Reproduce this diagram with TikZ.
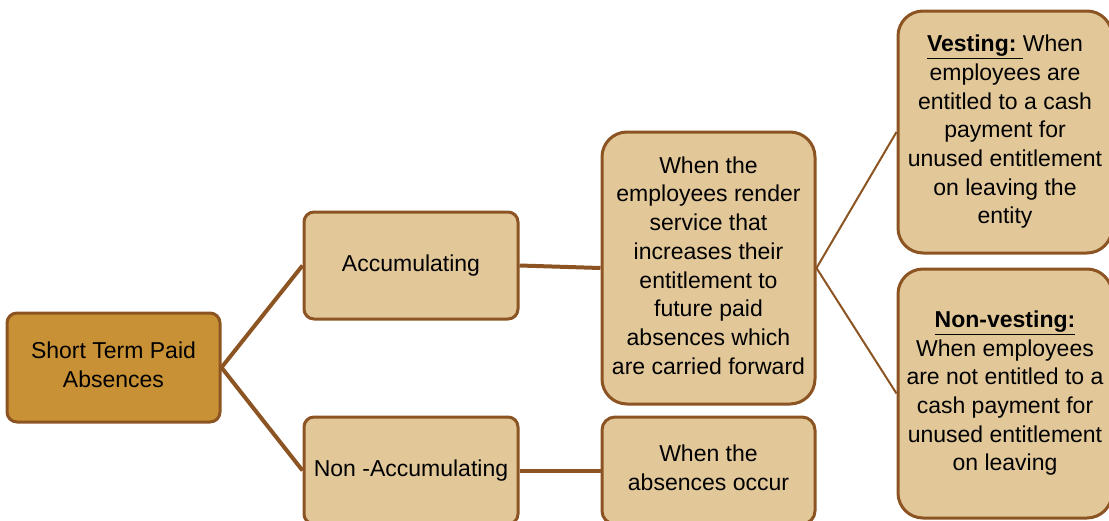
\documentclass[tikz,border=0pt]{standalone}
\usepackage{fontspec}
\setmainfont{Liberation Sans}
\usepackage{xcolor}
\usetikzlibrary{shapes.geometric, arrows, shapes}
\definecolor{boxline}{RGB}{140,84,34}
\definecolor{boxfill}{RGB}{226,200,153}
\definecolor{rootfill}{RGB}{200,145,54}
\tikzstyle{catbox} = [rectangle, rounded corners=10pt, minimum width=214pt, minimum height=107pt, text centered, draw=boxline, line width=3pt, fill=boxfill, inner sep=0pt]
\tikzstyle{rootbox} = [catbox, fill=rootfill, minimum width=213pt, minimum height=109pt]
\tikzstyle{tallbox} = [catbox, rounded corners=25pt]
\tikzstyle{link} = [draw=boxline, line width=4pt]
\tikzstyle{thinlink} = [draw=boxline, line width=2pt]

\begin{document}
\begin{tikzpicture}[x=1pt, y=1pt, yscale=-1, font=\fontsize{23}{28.7}\selectfont]

\clip (0,0) rectangle (1109,520);

\node at (113.5, 367.5) (absences) [rootbox] {\begin{tabular}{c} Short Term Paid \\ Absences \end{tabular}};
\node at (411, 265.5) (accum) [catbox] {Accumulating};
\node at (411, 470.5) (nonaccum) [catbox] {Non -Accumulating};
\node at (708.5, 268) (carried) [tallbox, minimum height=272pt, minimum width=213pt] {\begin{tabular}{c} When the \\ employees render \\ service that \\ increases their \\ entitlement to \\ future paid \\ absences which \\ are carried forward \end{tabular}};
\node at (708.5, 470.5) (occur) [catbox, minimum width=213pt, rounded corners=13pt] {\begin{tabular}{c} When the \\ absences occur \end{tabular}};
\node at (1005, 132) (vesting) [tallbox, minimum height=242pt] {\begin{tabular}{c} \underline{\textbf{Vesting:}\ }When \\ employees are \\ entitled to a cash \\ payment for \\ unused entitlement \\ on leaving the \\ entity \end{tabular}};
\node at (1005, 393.5) (nonvesting) [tallbox, minimum height=249pt] {\begin{tabular}{c} \underline{\textbf{Non-vesting:}} \\ When employees \\ are not entitled to a \\ cash payment for \\ unused entitlement \\ on leaving \end{tabular}};

\draw[link] (absences.east) -- (accum.west);
\draw[link] (absences.east) -- (nonaccum.west);
\draw[link] (accum.east) -- (carried.west);
\draw[link] (nonaccum.east) -- (occur.west);
\draw[thinlink] (carried.east) -- (vesting.west);
\draw[thinlink] (carried.east) -- (nonvesting.west);

\end{tikzpicture}
\end{document}
